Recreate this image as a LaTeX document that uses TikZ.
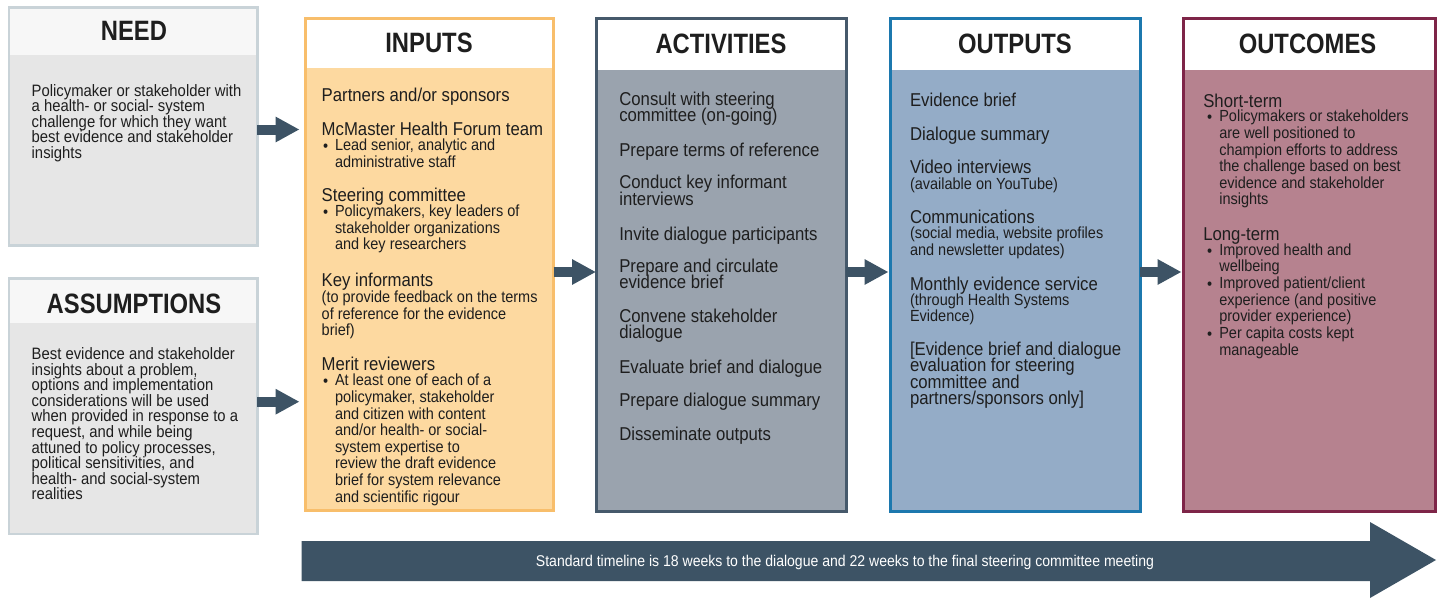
\documentclass[tikz,border=0pt]{standalone}
\usepackage{fontspec}
\setmainfont{Liberation Sans}[FakeStretch=0.9]
\newfontfamily\hfont{Liberation Sans}[FakeStretch=0.85]
\usetikzlibrary{arrows.meta,calc}
\definecolor{needfill}{HTML}{E6E6E6}
\definecolor{needhead}{HTML}{F7F7F7}
\definecolor{needborder}{HTML}{C9D3D8}
\definecolor{infill}{HTML}{FDD9A0}
\definecolor{inborder}{HTML}{F8BE6B}
\definecolor{actfill}{HTML}{9AA3AE}
\definecolor{actborder}{HTML}{46596B}
\definecolor{outfill}{HTML}{94ACC7}
\definecolor{outborder}{HTML}{1C78AE}
\definecolor{ocfill}{HTML}{B6828F}
\definecolor{ocborder}{HTML}{7E2548}
\definecolor{arrowc}{HTML}{3D5365}
\definecolor{txtc}{HTML}{1E1E1E}
\newcommand\fmain{\fontsize{18.6}{16.3}\selectfont\lineskiplimit=-50pt\lineskip=0pt\relax}
\newcommand\fsmall{\fontsize{16.1}{16.6}\selectfont\lineskiplimit=-50pt\lineskip=0pt\relax}
\newcommand\fneed{\fontsize{16.5}{15.6}\selectfont\lineskiplimit=-50pt\lineskip=0pt\relax}
\begin{document}
\begin{tikzpicture}[x=1pt,y=-1pt,
  tmain/.style={anchor=north west, inner sep=0pt, outer sep=0pt, align=left, text=txtc, font=\fmain, yshift=14.5pt, execute at begin node={\rule{0pt}{14.5pt}}},
  tsmall/.style={anchor=north west, inner sep=0pt, outer sep=0pt, align=left, text=txtc, font=\fsmall, yshift=12.5pt, execute at begin node={\rule{0pt}{12.5pt}}},
  tneed/.style={tsmall, font=\fneed},
  head/.style={anchor=base, inner sep=0pt, text=txtc, font=\hfont\bfseries\fontsize{28}{28}\selectfont},
  box/.style={rectangle, inner sep=0pt, outer sep=0pt},
  conn/.style={draw=arrowc, line width=10pt, -{Triangle[length=24pt,width=24pt]}},
]
\useasboundingbox (0,0) rectangle (1445,600);
\fill[white] (0,0) rectangle (1445,600);

% ---- boxes
\node[box, draw=needborder, line width=2.5pt, fill=needfill, minimum width=248.5pt, minimum height=238pt] (need) at (133,126.25) {};
\fill[needhead] (10,8.5) rectangle (256,55);
\node[head] (needh) at (134,40) {NEED};

\node[box, draw=needborder, line width=2.5pt, fill=needfill, minimum width=248.5pt, minimum height=255.5pt] (assump) at (133,406) {};
\fill[needhead] (10,279.5) rectangle (256,323);
\node[head] (assumph) at (134,313.3) {ASSUMPTIONS};

\node[box, draw=inborder, line width=3pt, fill=infill, minimum width=248pt, minimum height=492pt] (inputs) at (429.5,264.5) {};
\fill[white] (307,20) rectangle (552,68);
\node[head] (inputsh) at (429,52.7) {INPUTS};

\node[box, draw=actborder, line width=3pt, fill=actfill, minimum width=250pt, minimum height=492.5pt] (act) at (721,264.75) {};
\fill[white] (597.5,20) rectangle (844.5,70);
\node[head] (acth) at (721,53.3) {ACTIVITIES};

\node[box, draw=outborder, line width=3pt, fill=outfill, minimum width=250pt, minimum height=492.5pt] (outp) at (1015,264.75) {};
\fill[white] (891.5,20) rectangle (1138.5,70);
\node[head] (outph) at (1015,53) {OUTPUTS};

\node[box, draw=ocborder, line width=3pt, fill=ocfill, minimum width=251.5pt, minimum height=492.5pt] (outc) at (1309.25,264.75) {};
\fill[white] (1185,20) rectangle (1433.5,70);
\node[head] (outch) at (1307.5,53) {OUTCOMES};

% ---- texts
\node[tneed] (needt) at (31.7,96.7) {Policymaker or stakeholder with\\a health- or social- system\\challenge for which they want\\best evidence and stakeholder\\insights};
\node[tneed] (assumpt) at (31.7,360) {Best evidence and stakeholder\\insights about a problem,\\options and implementation\\considerations will be used\\when provided in response to a\\request, and while being\\attuned to policy processes,\\political sensitivities, and\\health- and social-system\\realities};

\node[tmain] (in1) at (321.7,101.7) {Partners and/or sponsors};
\node[tmain] (in2) at (321.7,135) {McMaster Health Forum team};
\node[tsmall] (in2b) at (323,151.7) {\textbullet};
\node[tsmall] (in2t) at (335,151.7) {Lead senior, analytic and\\administrative staff};
\node[tmain] (in3) at (321.7,201.7) {Steering committee};
\node[tsmall] (in3b) at (323,217.3) {\textbullet};
\node[tsmall] (in3t) at (335,217.3) {Policymakers, key leaders of\\stakeholder organizations\\and key researchers};
\node[tmain] (in4) at (321.7,286.7) {Key informants};
\node[tsmall] (in4t) at (321.7,303.3) {(to provide feedback on the terms\\of reference for the evidence\\brief)};
\node[tmain] (in5) at (321.7,370) {Merit reviewers};
\node[tsmall] (in5b) at (323,386.7) {\textbullet};
\node[tsmall] (in5t) at (335,386.7) {At least one of each of a\\policymaker, stakeholder\\and citizen with content\\and/or health- or social-\\system expertise to\\review the draft evidence\\brief for system relevance\\and scientific rigour};

\node[tmain] (a1) at (619.3,106.7) {Consult with steering\\committee (on-going)};
\node[tmain] (a2) at (619.3,156.7) {Prepare terms of reference};
\node[tmain] (a3) at (619.3,190) {Conduct key informant\\interviews};
\node[tmain] (a4) at (619.3,240) {Invite dialogue participants};
\node[tmain] (a5) at (619.3,273.3) {Prepare and circulate\\evidence brief};
\node[tmain] (a6) at (619.3,323.3) {Convene stakeholder\\dialogue};
\node[tmain] (a7) at (619.3,373.3) {Evaluate brief and dialogue};
\node[tmain] (a8) at (619.3,406.7) {Prepare dialogue summary};
\node[tmain] (a9) at (619.3,440) {Disseminate outputs};

\node[tmain] (o1) at (910,106.7) {Evidence brief};
\node[tmain] (o2) at (910,140) {Dialogue summary};
\node[tmain] (o3) at (910,173.3) {Video interviews};
\node[tsmall] (o3s) at (910,189.3) {(available on YouTube)};
\node[tmain] (o4) at (910,223.3) {Communications};
\node[tsmall] (o4s) at (910,239.3) {(social media, website profiles\\and newsletter updates)};
\node[tmain] (o5) at (910,290) {Monthly evidence service};
\node[tsmall] (o5s) at (910,306) {(through Health Systems\\Evidence)};
\node[tmain] (o6) at (910,356.7) {[Evidence brief and dialogue\\evaluation for steering\\committee and\\partners/sponsors only]};

\node[tmain] (c1) at (1203.3,107.3) {Short-term};
\node[tsmall] (c1b) at (1207,122.7) {\textbullet};
\node[tsmall] (c1t) at (1219.3,122.7) {Policymakers or stakeholders\\are well positioned to\\champion efforts to address\\the challenge based on best\\evidence and stakeholder\\insights};
\node[tmain] (c2) at (1203.3,240) {Long-term};
\node[tsmall] (c2b1) at (1207,256) {\textbullet};
\node[tsmall] (c2t1) at (1219.3,256) {Improved health and\\wellbeing};
\node[tsmall] (c2b2) at (1207,289.3) {\textbullet};
\node[tsmall] (c2t2) at (1219.3,289.3) {Improved patient/client\\experience (and positive\\provider experience)};
\node[tsmall] (c2b3) at (1207,339.3) {\textbullet};
\node[tsmall] (c2t3) at (1219.3,339.3) {Per capita costs kept\\manageable};

% ---- connectors
\coordinate (s1) at ($(need.east)+(0,3.25)$);
\coordinate (s2) at ($(assump.east)+(0,-4.3)$);
\coordinate (s3) at ($(inputs.east)+(0,7.5)$);
\coordinate (s4) at ($(act.east)+(0,7.25)$);
\coordinate (s5) at ($(outp.east)+(0,7.25)$);
\draw[conn, shorten >=6pt] (s1) -- (s1 -| inputs.west);
\draw[conn, shorten >=6pt] (s2) -- (s2 -| inputs.west);
\draw[conn] (s3) -- (s3 -| act.west);
\draw[conn, shorten >=1.5pt] (s4) -- (s4 -| outp.west);
\draw[conn, shorten >=2pt] (s5) -- (s5 -| outc.west);

% ---- timeline arrow
\fill[arrowc] (301.7,541) -- (1370,541) -- (1370,522) -- (1436,560) -- (1370,598) -- (1370,581) -- (301.7,581) -- cycle;
\node[anchor=base, inner sep=0pt, text=white, font=\fontsize{15.6}{16}\selectfont] (tl) at (845,566) {Standard timeline is 18 weeks to the dialogue and 22 weeks to the final steering committee meeting};
\end{tikzpicture}
\end{document}
